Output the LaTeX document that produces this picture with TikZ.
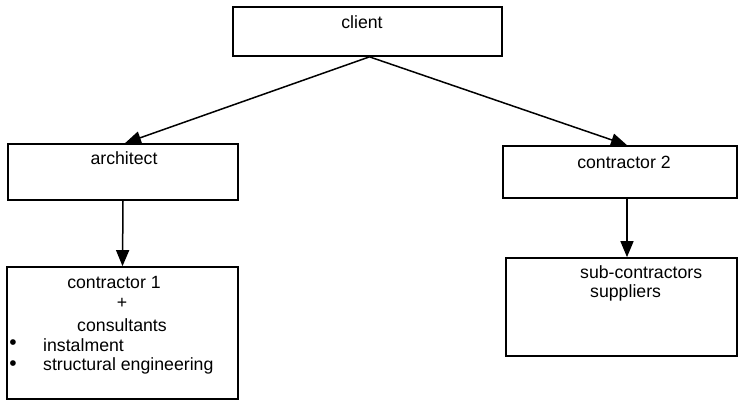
\documentclass[tikz,border=0pt]{standalone}
\usepackage{fontspec}
\setmainfont{Liberation Sans}
\usetikzlibrary{arrows.meta}
\begin{document}
\begin{tikzpicture}[
    x=1pt, y=-1pt,
    box/.style={rectangle, draw, line width=1.7pt, inner sep=0pt},
    txt/.style={inner sep=0pt, font=\fontsize{17.7}{20}\selectfont},
    dot/.style={inner sep=0pt, font=\fontsize{21}{21}\selectfont},
    link/.style={-{Triangle[length=16pt,width=13pt]}, line width=1.5pt}
]
\useasboundingbox (0,0) rectangle (739,401);
\node[box, minimum width=269pt, minimum height=49pt] (client) at (367.5,31.5) {};
\node[box, minimum width=230pt, minimum height=56pt] (arch) at (123,172) {};
\node[box, minimum width=234pt, minimum height=52pt] (con2) at (620,172) {};
\node[box, minimum width=231pt, minimum height=132pt] (con1) at (122.5,333) {};
\node[box, minimum width=231pt, minimum height=98pt] (subs) at (621.5,307) {};

\node[txt] (tclient) at (362,22) {client};
\node[txt] (tarch) at (124,158) {architect};
\node[txt] (tcon2) at (624,162) {contractor 2};
\node[txt, anchor=west] (tsub) at (580,272) {sub-contractors};
\node[txt, anchor=west] (tsupp) at (590,293) {suppliers};
\node[txt] (tcon1) at (114,282) {contractor 1};
\node[txt] (tplus) at (122,303) {+};
\node[txt] (tcons) at (122,325) {consultants};
\node[dot] (b1) at (13,345) {•};
\node[dot] (b2) at (13,366) {•};
\node[txt, anchor=west] (tinst) at (43,345) {instalment};
\node[txt, anchor=west] (tstruct) at (43,366) {structural engineering};

\draw[link] ([xshift=2pt]client.south) -- ([xshift=2pt]arch.north);
\draw[link] ([xshift=2pt]client.south) -- ([xshift=7pt]con2.north);
\draw[link] (arch.south) -- (con1.north);
\draw[link] ([xshift=7pt]con2.south) -- ([xshift=5.5pt]subs.north);
\end{tikzpicture}
\end{document}
